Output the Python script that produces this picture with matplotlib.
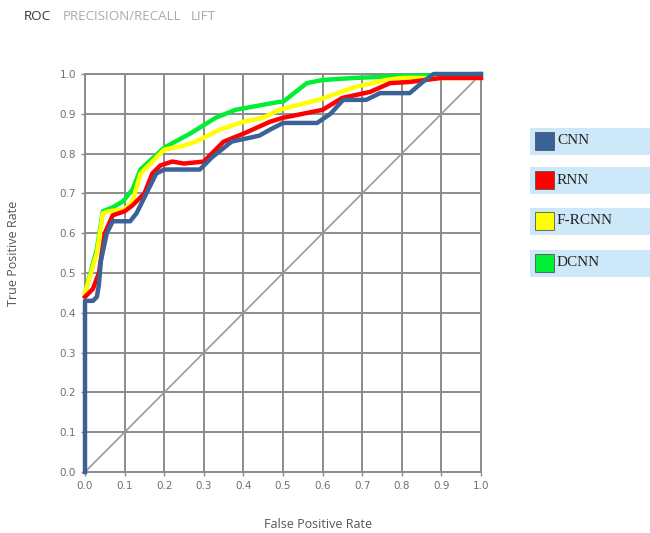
import matplotlib
matplotlib.use("Agg")
import matplotlib.pyplot as plt
from matplotlib.patches import Rectangle

# ---- data ----
names = ["CNN", "RNN", "F-RCNN", "DCNN"]
colors = ["#3a6297", "#ff0000", "#ffff00", "#00ee33"]

cnn_fpr = [0.0, 0.0, 0.02, 0.03, 0.035, 0.04, 0.055, 0.07, 0.114, 0.13, 0.15, 0.18, 0.2, 0.29, 0.32, 0.37, 0.44, 0.467, 0.5, 0.586, 0.62, 0.652, 0.71, 0.745, 0.82, 0.853, 0.88, 1.0]
cnn_tpr = [0.0, 0.43, 0.43, 0.44, 0.47, 0.53, 0.60, 0.63, 0.63, 0.65, 0.69, 0.75, 0.76, 0.76, 0.79, 0.83, 0.845, 0.86, 0.877, 0.877, 0.90, 0.935, 0.935, 0.952, 0.952, 0.98, 1.0, 1.0]

rnn_fpr = [0.0, 0.02, 0.035, 0.05, 0.07, 0.1, 0.12, 0.15, 0.17, 0.19, 0.22, 0.25, 0.3, 0.32, 0.35, 0.4, 0.467, 0.5, 0.55, 0.6, 0.65, 0.72, 0.77, 0.82, 0.9, 1.0]
rnn_tpr = [0.44, 0.46, 0.50, 0.60, 0.645, 0.655, 0.67, 0.70, 0.75, 0.77, 0.78, 0.775, 0.78, 0.80, 0.83, 0.85, 0.88, 0.89, 0.90, 0.91, 0.94, 0.955, 0.977, 0.98, 0.99, 0.99]

frcnn_fpr = [0.0, 0.03, 0.045, 0.06, 0.1, 0.12, 0.14, 0.17, 0.2, 0.25, 0.28, 0.34, 0.4, 0.45, 0.49, 0.59, 0.68, 0.76, 0.8, 1.0]
frcnn_tpr = [0.45, 0.55, 0.65, 0.655, 0.66, 0.68, 0.75, 0.78, 0.81, 0.82, 0.83, 0.86, 0.88, 0.89, 0.91, 0.935, 0.967, 0.985, 0.99, 0.99]

dcnn_fpr = [0.0, 0.03, 0.045, 0.07, 0.096, 0.12, 0.14, 0.2, 0.265, 0.33, 0.38, 0.49, 0.5, 0.56, 0.6, 0.68, 0.8, 1.0]
dcnn_tpr = [0.45, 0.56, 0.655, 0.665, 0.68, 0.71, 0.76, 0.815, 0.85, 0.89, 0.91, 0.93, 0.93, 0.977, 0.985, 0.99, 0.995, 1.0]

ticks = [0.0, 0.1, 0.2, 0.3, 0.4, 0.5, 0.6, 0.7, 0.8, 0.9, 1.0]
tabs = ["ROC", "PRECISION/RECALL", "LIFT"]

series = [(cnn_fpr, cnn_tpr), (rnn_fpr, rnn_tpr), (frcnn_fpr, frcnn_tpr), (dcnn_fpr, dcnn_tpr)]

# ---- figure ----
fig = plt.figure(figsize=(6.5, 5.33), dpi=100)
ax = fig.add_axes([85/650, 1-472/533, 396/650, 398/533])

ax.set_xlim(0, 1)
ax.set_ylim(0, 1)
ax.set_xticks(ticks)
ax.set_yticks(ticks)
ax.set_xticklabels([f"{t:.1f}" for t in ticks])
ax.set_yticklabels([f"{t:.1f}" for t in ticks])
ax.grid(True, color="#8c8c8c", linewidth=1.4)
ax.set_axisbelow(True)
for s in ax.spines.values():
    s.set_color("#8c8c8c")
    s.set_linewidth(1.4)
ax.tick_params(colors="#8c8c8c", labelcolor="#707070", labelsize=7.5, length=3, width=1)

# diagonal
ax.plot([0, 1], [0, 1], color="#9a9a9a", linewidth=1.2, zorder=2)

# curves: draw DCNN first, CNN on top
for idx in [3, 2, 1, 0]:
    x, y = series[idx]
    ax.plot(x, y, color=colors[idx], linewidth=3.2, zorder=3 + (3 - idx),
            solid_joinstyle="round", clip_on=False)

ax.set_xlabel("False Positive Rate", fontsize=9, color="#555555", family="Open Sans")
ax.xaxis.set_label_coords((318-85)/396, (472-525)/398)
ax.xaxis.label.set_va("center")
ax.set_ylabel("True Positive Rate", fontsize=9, color="#555555", family="Open Sans")
ax.yaxis.set_label_coords((14-85)/396, (472-253)/398)
ax.yaxis.label.set_va("center")

# header tabs
tab_x = [24, 63, 191]
tab_c = ["#333333", "#aaaaaa", "#aaaaaa"]
for t, xp, c in zip(tabs, tab_x, tab_c):
    fig.text(xp/650, 1-17/533, t, fontsize=9.6, color=c, family="Open Sans", va="center")

# legend boxes
box_tops = [128, 167, 208, 250]
for name, col, top in zip(names, colors, box_tops):
    h = 27
    fig.patches.append(Rectangle((530/650, 1-(top+h)/533), 120/650, h/533,
                                 transform=fig.transFigure, facecolor="#cde9f9",
                                 edgecolor="none", zorder=0))
    fig.patches.append(Rectangle((535/650, 1-(top+22)/533), 19/650, 18/533,
                                 transform=fig.transFigure, facecolor=col,
                                 edgecolor="#555555", linewidth=0.6, zorder=1))
    fig.text(557/650, 1-(top+13)/533, name, fontsize=11, family="Liberation Serif",
             color="#222222", va="center")

fig.savefig("out.png", dpi=100)
